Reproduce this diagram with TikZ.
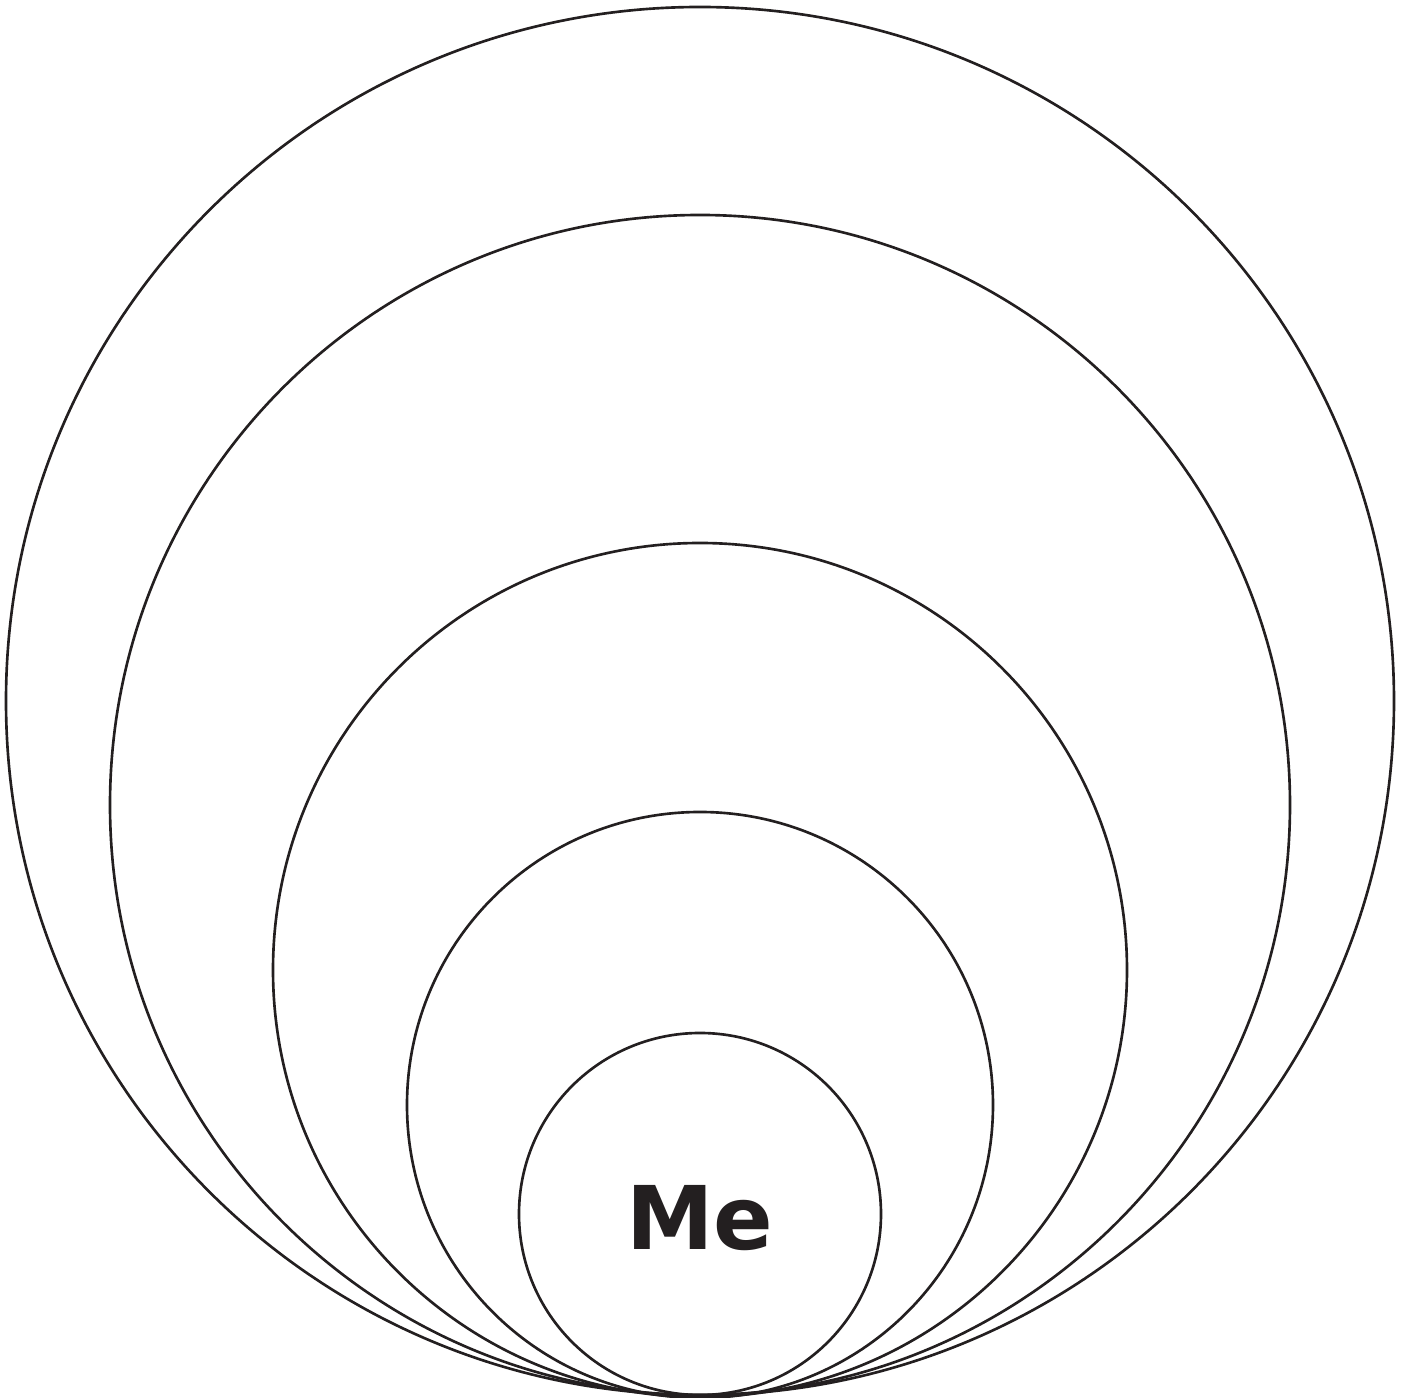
\documentclass[tikz,border=0pt]{standalone}
\usepackage{fontspec}
\usepackage[dvipsnames]{xcolor}
\usepackage{tikz}
\newfontfamily\blobfont{DejaVu Sans}
\definecolor{inkblack}{HTML}{231F20}

\begin{document}
\begin{tikzpicture}[x=0.01cm,y=-0.01cm]
  \useasboundingbox (0,0) rectangle (1411,1398);
  \coordinate (C1) at (700,701);
  \coordinate (C2) at (700,805);
  \coordinate (C3) at (700,970);
  \coordinate (C4) at (700,1105);
  \coordinate (C5) at (700,1214);
  \draw[line width=0.75pt,color=inkblack] (C1) circle[radius=694];
  \draw[line width=0.75pt,color=inkblack] (C2) circle[radius=590];
  \draw[line width=0.75pt,color=inkblack] (C3) circle[radius=427];
  \draw[line width=0.75pt,color=inkblack] (C4) circle[radius=293];
  \draw[line width=0.75pt,color=inkblack] (C5) circle[radius=181];
  \node[text=inkblack,font=\blobfont\bfseries\fontsize{25}{25}\selectfont] (me) at (700,1218) {Me};
\end{tikzpicture}
\end{document}
